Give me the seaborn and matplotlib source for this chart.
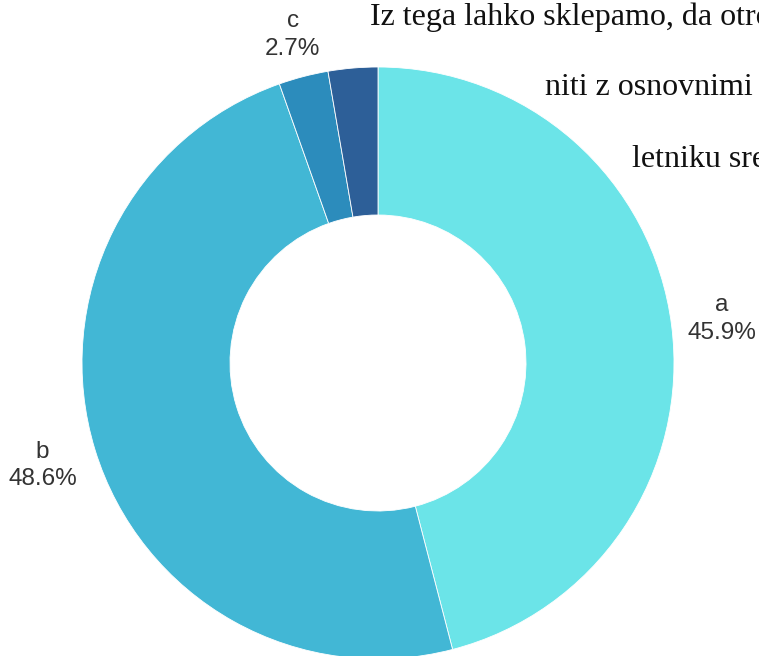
import matplotlib
matplotlib.use("Agg")
import matplotlib.pyplot as plt
import seaborn as sns

# ---- data ----
categories = ["a", "b", "c", "d"]
counts = [17, 18, 1, 1]
show_label = [True, True, True, False]
colors = ["#6BE4E8", "#42B7D5", "#2C8CBC", "#2D5F98"]
overlay_lines = ["Iz tega lahko sklepamo, da otro", "niti z osnovnimi", "letniku sre"]

sns.set_theme(style="white")
plt.rcParams["font.family"] = ["Liberation Sans", "DejaVu Sans"]

W, H, DPI = 759, 656, 100
fig = plt.figure(figsize=(W / DPI, H / DPI), dpi=DPI)
fig.patch.set_facecolor("white")

# donut geometry in pixels
cx, cy, R = 378, 363, 296
ax = fig.add_axes([0, 0, 1, 1])

total = sum(counts)
labels = [f"{c}\n{100 * v / total:.1f}%" if s else "" for c, v, s in zip(categories, counts, show_label)]

wedges, texts = ax.pie(
    counts,
    labels=labels,
    colors=colors,
    startangle=90,
    counterclock=False,
    labeldistance=1.0,
    wedgeprops=dict(width=0.5, edgecolor="white", linewidth=0.6),
    textprops=dict(fontsize=17.5, color="#333333", ha="center", va="center",
                   multialignment="center", linespacing=1.3),
)
# per-label radial distance (layout only)
label_dist = [1.17, 1.185, 1.145, 1.15]
for t, k in zip(texts, label_dist):
    x, y = t.get_position()
    t.set_position((x * k, y * k))

ax.set_aspect("auto")
ax.set_xlim(-cx / R, (W - cx) / R)
ax.set_ylim(-(H - cy) / R, cy / R)
ax.axis("off")

# overlay serif text (cropped at right edge as in the source screenshot)
serif = ["Liberation Serif", "DejaVu Serif"]
positions = [(370, 25), (545, 95), (632, 167)]
for line, (px, py) in zip(overlay_lines, positions):
    fig.text(px / W, 1 - py / H, line, fontsize=23, family=serif,
             color="#111111", ha="left", va="baseline")

fig.savefig("out.png", dpi=DPI)
